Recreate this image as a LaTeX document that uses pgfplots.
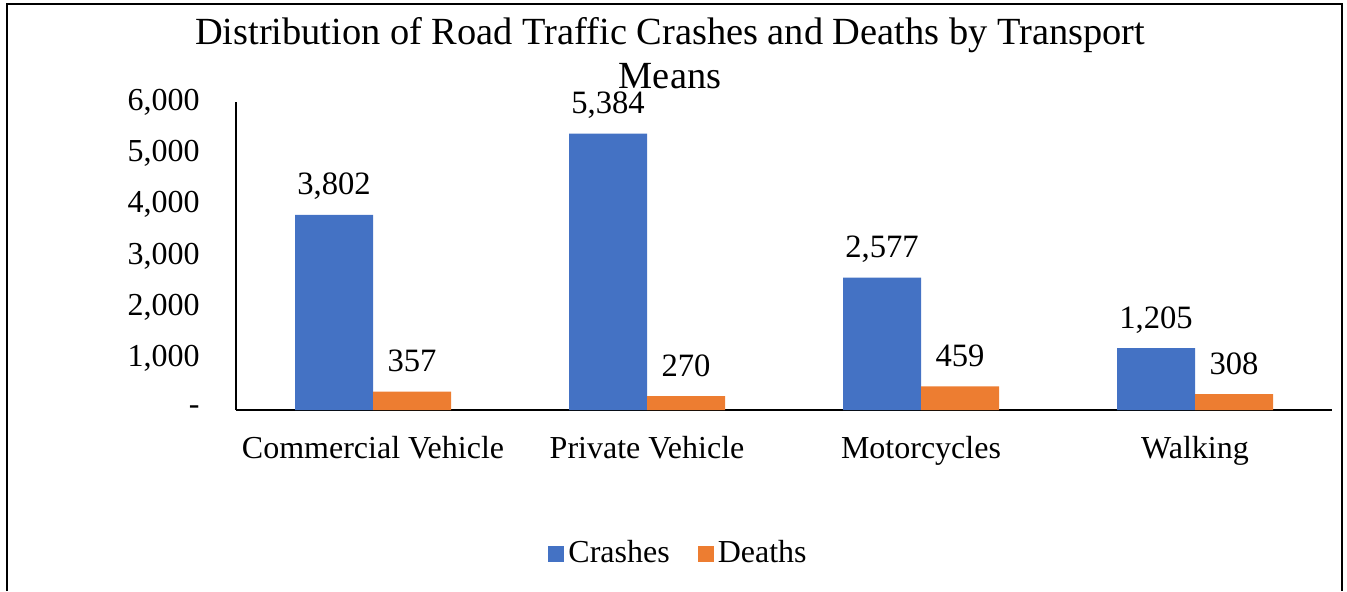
\documentclass[border=0pt]{standalone}
\usepackage{fontspec}
\setmainfont{Liberation Serif}
\usepackage{pgfplots}
\pgfplotsset{compat=1.18}
\definecolor{cblue}{HTML}{4472C4}
\definecolor{corange}{HTML}{ED7D31}
\begin{document}
\begin{tikzpicture}
\path[use as bounding box] (0,0) rectangle (673.5pt,295.5pt);
\draw[line width=1pt] (3.5pt,0) -- (3.5pt,293.5pt) -- (670.75pt,293.5pt) -- (670.75pt,0);
\node[anchor=base, inner sep=0pt, font=\fontsize{19.2}{22}\selectfont] at (335pt,273.25pt) {Distribution of Road Traffic Crashes and Deaths by Transport};
\node[anchor=base, inner sep=0pt, font=\fontsize{19.2}{22}\selectfont] at (335pt,251.5pt) {Means};
\begin{axis}[
  at={(118pt,90.5pt)}, anchor=south west,
  scale only axis, width=548pt, height=154pt,
  ybar=0pt, bar width=39pt,
  xmin=-0.5, xmax=3.5, ymin=0, ymax=6000,
  clip=false,
  axis x line=bottom, axis y line=left,
  axis line style={line width=0.8pt, -},
  xtick={0,1,2,3},
  xticklabels={Commercial Vehicle, Private Vehicle, Motorcycles, Walking},
  ytick={0,1000,2000,3000,4000,5000,6000},
  yticklabels={{-\hspace{9pt}},{1,000},{2,000},{3,000},{4,000},{5,000},{6,000}},
  major tick length=0pt,
  /pgf/number format/.cd, 1000 sep={,}, assume math mode=true, /pgfplots/.cd,
  tick label style={font=\fontsize{16}{18}\selectfont},
  xticklabel style={anchor=base, yshift=-24pt, inner sep=0pt},
  yticklabel style={anchor=east, inner sep=0pt, xshift=-18pt},
  nodes near coords={\pgfmathprintnumber{\pgfplotspointmeta}},
  nodes near coords style={font=\fontsize{16.3}{18}\selectfont, anchor=base, yshift=10pt, inner sep=0pt},
  legend columns=2,
  legend style={at={(0.4047,-0.464)}, anchor=center, draw=none,
    font=\fontsize{16}{18}\selectfont,
    /tikz/every even column/.append style={column sep=12pt}},
  legend image code/.code={\fill[#1] (0pt,-4.5pt) rectangle (8pt,3.5pt);},
]
\addplot[fill=cblue, draw=none] coordinates {(0,3802) (1,5384) (2,2577) (3,1205)};
\addplot[fill=corange, draw=none] coordinates {(0,357) (1,270) (2,459) (3,308)};
\legend{Crashes, Deaths}
\end{axis}
\end{tikzpicture}
\end{document}
